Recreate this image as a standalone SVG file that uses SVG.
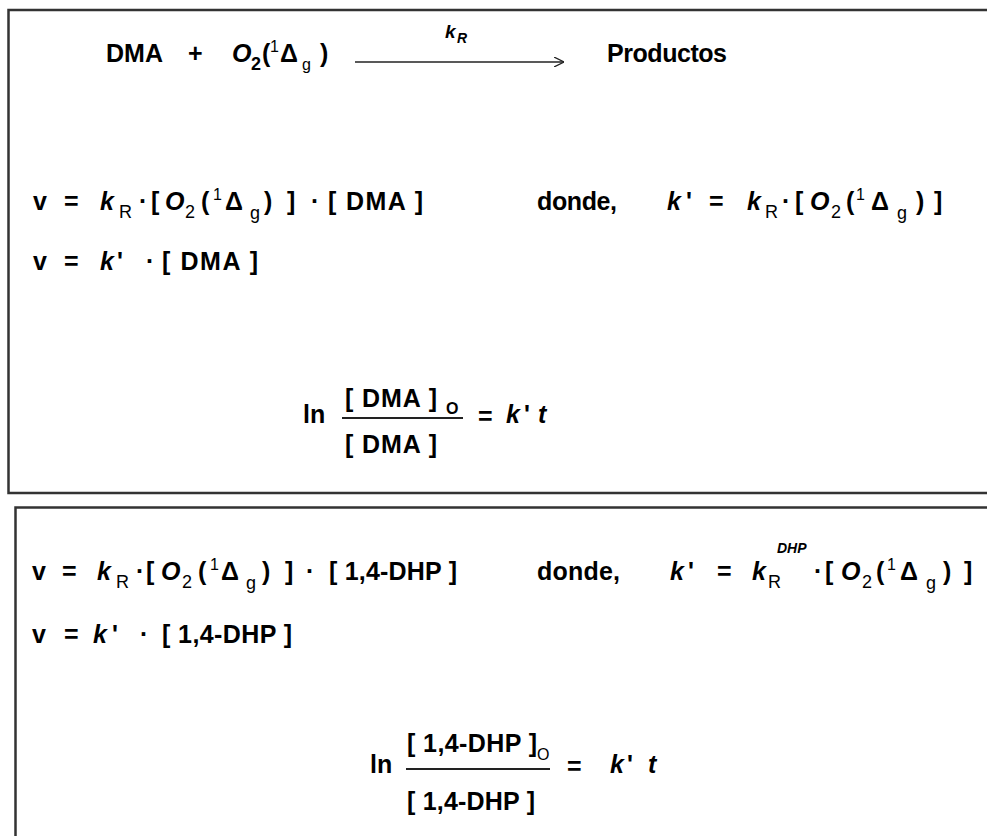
<svg xmlns="http://www.w3.org/2000/svg" width="987" height="836" viewBox="0 0 987 836">
<style>
text{font-family:"Liberation Sans",Arial,sans-serif;font-weight:bold;fill:#000;font-size:25px}
.i{font-style:italic}
.s{font-size:18px}
.xs{font-size:16px}
.t{font-size:14px}
.n{font-weight:normal}
.box{fill:none;stroke:#333;stroke-width:2.5}
.ln{stroke:#222;stroke-width:2}
</style>
<defs>
<marker id="ah" viewBox="0 0 10 10" refX="10" refY="5" markerWidth="10" markerHeight="10" markerUnits="userSpaceOnUse" orient="auto">
<path d="M0,0 L10,5 L0,10" fill="none" stroke="#222" stroke-width="1.3"/>
</marker>
</defs>
<rect width="987" height="836" fill="#fff"/>
<g id="box1">
<path class="box" d="M1000,10 H8.5 V493 H1000"/>
</g>
<g id="box2">
<path class="box" d="M1000,507.5 H15.5 V850"/>
</g>

<g id="reaction">
<text x="106" y="62">DMA</text>
<text x="188" y="62">+</text>
<text x="232" y="62" class="i">O</text>
<text x="251" y="70" class="s">2</text>
<text x="262" y="62">(</text>
<text x="270" y="52" class="xs n">1</text>
<text x="280" y="62">Δ</text>
<text x="302" y="70" class="xs n">g</text>
<text x="320" y="62">)</text>
<text x="607" y="62" textLength="120">Productos</text>
</g>
<g id="connectors">
<line x1="355" y1="62" x2="564" y2="62" stroke="#222" stroke-width="1.3" marker-end="url(#ah)"/>
<text x="445" y="38" class="i" style="font-size:19px">k</text>
<text x="457" y="43" class="i t">R</text>
</g>

<g id="rate1">
<text x="33" y="210">v</text>
<text x="64" y="210">=</text>
<text x="100" y="210" class="i">k</text>
<text x="119" y="218" class="s n">R</text>
<text x="139" y="210">·</text>
<text x="151" y="210">[</text>
<text x="165" y="210" class="i">O</text>
<text x="185" y="218" class="s n">2</text>
<text x="201" y="210">(</text>
<text x="213" y="200" class="xs n">1</text>
<text x="225" y="210">Δ</text>
<text x="250" y="219" class="s n">g</text>
<text x="264" y="210">)</text>
<text x="287" y="210">]</text>
<text x="311" y="210">·</text>
<text x="328" y="210" textLength="95">[ DMA ]</text>
</g>
<g id="rate1b">
<text x="33" y="270">v</text>
<text x="64" y="270">=</text>
<text x="100" y="270" class="i">k</text>
<text x="117" y="270">'</text>
<text x="146" y="270">·</text>
<text x="162" y="270" textLength="96">[ DMA ]</text>
</g>
<g id="kprime1">
<text x="537" y="210" textLength="80">donde,</text>
<text x="667" y="210" class="i">k</text>
<text x="686" y="210">'</text>
<text x="709" y="210">=</text>
<text x="747" y="210" class="i">k</text>
<text x="765" y="218" class="s n">R</text>
<text x="782" y="210">·</text>
<text x="795" y="210">[</text>
<text x="810" y="210" class="i">O</text>
<text x="831" y="218" class="s n">2</text>
<text x="846" y="210">(</text>
<text x="856" y="200" class="xs n">1</text>
<text x="871" y="210">Δ</text>
<text x="897" y="219" class="s n">g</text>
<text x="916" y="210">)</text>
<text x="934" y="210">]</text>
</g>
<g id="integrated1">
<text x="303" y="423">ln</text>
<text x="345" y="407" textLength="92">[ DMA ]</text>
<text x="446" y="414" class="xs">O</text>
<line class="ln" x1="342" y1="418" x2="463" y2="418"/>
<text x="345" y="453" textLength="92">[ DMA ]</text>
<text x="478" y="425">=</text>
<text x="506" y="423" class="i">k</text>
<text x="524" y="423">'</text>
<text x="538" y="423" class="i">t</text>
</g>

<g id="rate2">
<text x="32" y="580">v</text>
<text x="62" y="580">=</text>
<text x="97" y="580" class="i">k</text>
<text x="116" y="588" class="s n">R</text>
<text x="136" y="580">·</text>
<text x="146" y="580">[</text>
<text x="161" y="580" class="i">O</text>
<text x="182" y="588" class="s n">2</text>
<text x="198" y="580">(</text>
<text x="210" y="570" class="xs n">1</text>
<text x="221" y="580">Δ</text>
<text x="246" y="589" class="s n">g</text>
<text x="262" y="580">)</text>
<text x="285" y="580">]</text>
<text x="306" y="580">·</text>
<text x="329" y="580" textLength="128">[ 1,4-DHP ]</text>
</g>
<g id="rate2b">
<text x="32" y="643">v</text>
<text x="64" y="643">=</text>
<text x="93" y="643" class="i">k</text>
<text x="112" y="643">'</text>
<text x="140" y="643">·</text>
<text x="162" y="643" textLength="130">[ 1,4-DHP ]</text>
</g>
<g id="kprime2">
<text x="537" y="580" textLength="83">donde,</text>
<text x="670" y="580" class="i">k</text>
<text x="688" y="580">'</text>
<text x="717" y="580">=</text>
<text x="752" y="580" class="i">k</text>
<text x="768" y="588" class="s n">R</text>
<text x="777" y="553" class="i t">DHP</text>
<text x="814" y="580">·</text>
<text x="825" y="580">[</text>
<text x="841" y="580" class="i">O</text>
<text x="862" y="588" class="s n">2</text>
<text x="876" y="580">(</text>
<text x="887" y="570" class="xs n">1</text>
<text x="900" y="580">Δ</text>
<text x="926" y="589" class="s n">g</text>
<text x="943" y="580">)</text>
<text x="964" y="580">]</text>
</g>
<g id="integrated2">
<text x="370" y="773">ln</text>
<text x="407" y="752" textLength="130">[ 1,4-DHP ]</text>
<text x="537" y="760" class="xs n">O</text>
<line class="ln" x1="406" y1="769" x2="550" y2="769"/>
<text x="407" y="810" textLength="128">[ 1,4-DHP ]</text>
<text x="567" y="775">=</text>
<text x="610" y="773" class="i">k</text>
<text x="627" y="773">'</text>
<text x="648" y="773" class="i">t</text>
</g>
</svg>
